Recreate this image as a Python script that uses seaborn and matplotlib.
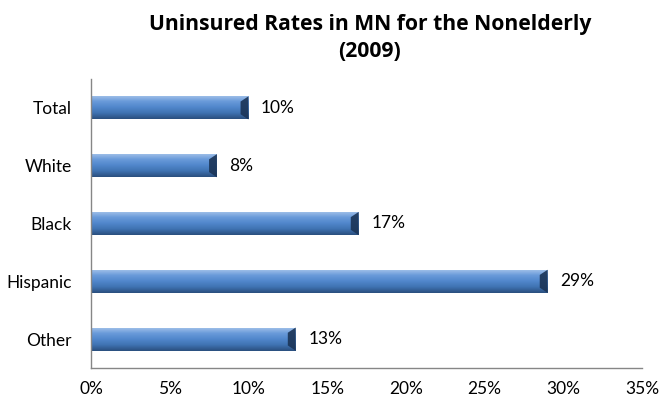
import matplotlib
matplotlib.use("Agg")
import matplotlib.pyplot as plt
import matplotlib.colors as mcolors
import seaborn as sns
import numpy as np
import pandas as pd
from matplotlib.ticker import PercentFormatter, MultipleLocator

## chart data
groups = ["Total", "White", "Black", "Hispanic", "Other"]
uninsured_pct = [10, 8, 17, 29, 13]
title = "Uninsured Rates in MN for the Nonelderly\n(2009)"

df = pd.DataFrame({"group": groups, "rate": uninsured_pct})

sns.set_style("white")
plt.rcParams["font.family"] = ["Lato", "DejaVu Sans"]
plt.rcParams["text.color"] = "black"
plt.rcParams["xtick.color"] = "black"
plt.rcParams["ytick.color"] = "black"

fig = plt.figure(figsize=(6.64, 4.0), dpi=100)
ax = fig.add_axes([0.137, 0.08, 0.83, 0.7225])

bars = sns.barplot(data=df, y="group", x="rate", orient="h",
                   color="#4F81BD", saturation=1, width=0.4,
                   edgecolor="none", ax=ax)

## bevel look: vertical gradient clipped to each bar
shade = mcolors.LinearSegmentedColormap.from_list(
    "bevel", ["#A5C3EA", "#6A9BDA", "#5187CC", "#3F73B2", "#2A4F7E"])
grad = np.linspace(0, 1, 64).reshape(-1, 1)
for bar in list(bars.patches):
    bb = bar.get_bbox()
    im = ax.imshow(grad, cmap=shade, aspect="auto", origin="upper",
                   extent=[bb.x0, bb.x1, bb.y1, bb.y0], zorder=2,
                   interpolation="bicubic")
    im.set_clip_path(bar)
    # dark right cap
    cap_w = 0.5
    ax.fill([bb.x1 - cap_w, bb.x1, bb.x1, bb.x1 - cap_w],
            [bb.y0 + 0.09, bb.y0, bb.y1, bb.y1 - 0.09],
            color="#1B3456", alpha=0.9, zorder=3, lw=0)
    ax.text(bb.x1 + 0.8, (bb.y0 + bb.y1) / 2, f"{bb.x1:.0f}%",
            va="center", ha="left", fontsize=12.5)

ax.set_xlim(0, 35)
ax.set_ylim(4.5, -0.5)
ax.xaxis.set_major_locator(MultipleLocator(5))
ax.xaxis.set_major_formatter(PercentFormatter(decimals=0))
ax.set_yticks(np.arange(-0.5, 5, 1), minor=True)
ax.tick_params(axis="y", which="major", length=0, pad=14, labelsize=12.5)
ax.tick_params(axis="y", which="minor", length=5, color="#868686", width=1)
ax.tick_params(axis="x", length=6, color="#868686", labelcolor="black",
               width=1, labelsize=12.5, pad=3)
ax.set_xlabel("")
ax.set_ylabel("")
for side in ["top", "right"]:
    ax.spines[side].set_visible(False)
for side in ["left", "bottom"]:
    ax.spines[side].set_color("#868686")
    ax.spines[side].set_linewidth(1)

fig.text(0.557, 0.905, title, ha="center", va="center", color="black",
         fontsize=15.2, fontweight="bold", linespacing=1.4,
         family=["Open Sans", "DejaVu Sans"])

fig.savefig("out.png", dpi=100)
